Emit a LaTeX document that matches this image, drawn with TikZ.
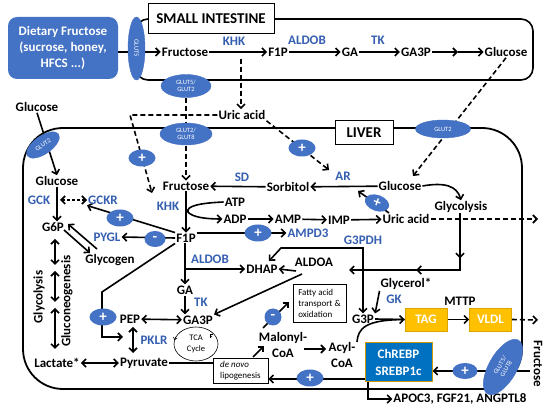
\documentclass[tikz,border=0pt]{standalone}
\usepackage{fontspec}
\setmainfont{Carlito}
\usetikzlibrary{arrows.meta,shapes.geometric,calc,decorations.markings}
\definecolor{eblue}{RGB}{68,114,196}
\definecolor{tblue}{RGB}{52,94,176}
\definecolor{cblue}{RGB}{0,112,192}
\definecolor{gold}{RGB}{255,192,0}
\pgfdeclarelayer{back}\pgfdeclarelayer{mid}\pgfsetlayers{back,mid,main}
\begin{document}
\begin{tikzpicture}[x=1pt,y=-1pt,
  every node/.style={inner sep=1pt, font=\fontsize{13}{15}\selectfont\bfseries},
  enz/.style={text=tblue},
  blob/.style={ellipse, fill=eblue, draw=eblue, inner sep=0pt, text=white, align=center, font=\fontsize{6.5}{7.5}\selectfont},
  pm/.style={ellipse, fill=eblue, inner sep=0pt, minimum width=27, minimum height=17, text=white, font=\fontsize{15}{15}\selectfont\bfseries},
  tip/.tip={Straight Barb[length=4pt,width=8pt]},
  ln/.style={line width=1.6pt},
  arr/.style={ln, -tip},
  dbl/.style={ln, tip-tip},
  darr/.style={arr, dash pattern=on 5pt off 3pt},
  thinbox/.style={draw, line width=0.6pt, inner sep=2pt, font=\fontsize{9}{11}\selectfont},
  gbox/.style={fill=gold, draw=gold!85!black, line width=0.6pt, minimum width=42, minimum height=23, text=white},
]
\begin{pgfonlayer}{back}
\path[use as bounding box, fill=white] (0,0) rectangle (550,409);
\draw[line width=1.6pt, rounded corners=12] (136,19) rectangle (533,80);
\draw[line width=1.8pt, rounded corners=40] (23,128) rectangle (522,389);
\end{pgfonlayer}

% ---------- small intestine ----------
\node[fill=eblue, rounded corners=9, minimum width=110, minimum height=62, text=white, align=center, font=\fontsize{13}{16}\selectfont\bfseries] (diet) at (63,48) {Dietary Fructose\\(sucrose, honey,\\HFCS ...)};
\node[blob, minimum width=63, minimum height=17, rotate=-90] (glut5) at (136.5,48.5) {GLUT5};
\node[draw, fill=white, line width=1pt, minimum width=126, minimum height=30, font=\fontsize{15}{17}\selectfont\bfseries] (silab) at (211,19) {SMALL INTESTINE};
\node (sifru) at (185,52) {Fructose};
\node (sif1p) at (278,52) {F1P};
\node (siga) at (350,52) {GA};
\node (siga3p) at (416,52) {GA3P};
\node (siglc) at (506,52) {Glucose};
\node[enz] (sikhk) at (234,41) {KHK};
\node[enz] (sialdob) at (307,40) {ALDOB};
\node[enz] (sitk) at (378,40) {TK};
\node[blob, minimum width=50, minimum height=23] (glut52) at (186,86) {GLUT5/\\GLUT2};
\node (siuric) at (242,115) {Uric acid};

% ---------- liver ----------
\node[draw, fill=white, line width=1pt, minimum width=58, minimum height=24, font=\fontsize{15}{17}\selectfont\bfseries] (livlab) at (364,133) {LIVER};
\node[blob, minimum width=55, minimum height=18] (glut2t) at (443,129) {GLUT2};
\node[blob, minimum width=52, minimum height=22] (glut28) at (186,134) {GLUT2/\\GLUT8};
\node[blob, minimum width=38, minimum height=18, rotate=35] (glut2l) at (43,145) {GLUT2};
\node (glco) at (37,107) {Glucose};
\node (lglc) at (57,181) {Glucose};
\node[enz] (gck) at (39,200) {GCK};
\node[enz] (gckr) at (103,200) {GCKR};
\node (g6p) at (53,227) {G6P};
\node[enz] (pygl) at (107,237) {PYGL};
\node (glycogen) at (110,260) {Glycogen};
\node (lf1p) at (186,238) {F1P};
\node (lfru) at (186,186) {Fructose};
\node[enz] (lkhk) at (168,206) {KHK};
\node[enz] (sd) at (242,177) {SD};
\node (sorb) at (288,187) {Sorbitol};
\node[enz] (ar) at (343,176) {AR};
\node (rglc) at (400,186) {Glucose};
\node (glyco) at (461,207) {Glycolysis};
\node (ruric) at (406,219) {Uric acid};
\node (atp) at (235,202) {ATP};
\node (adp) at (235,219) {ADP};
\node (amp) at (288,219) {AMP};
\node (imp) at (339,220) {IMP};
\node[enz] (ampd3) at (308,233) {AMPD3};
\node[enz] (g3pdh) at (363,240) {G3PDH};
\node (aldoa) at (314,262) {ALDOA};
\node (dhap) at (262,269) {DHAP};
\node[enz] (laldob) at (210,259) {ALDOB};
\node (lga) at (185,290) {GA};
\node[enz] (ltk) at (201,302) {TK};
\node (lga3p) at (198,320) {GA3P};
\node (pep) at (130,319) {PEP};
\node[enz] (pklr) at (154,340) {PKLR};
\node (pyr) at (144,363) {Pyruvate};
\node (lact) at (57,363) {Lactate*};
\node[rotate=90] (glycol) at (39,297) {Glycolysis};
\node[rotate=90] (gluco) at (67,301) {Gluconeogenesis};
\node[ellipse, draw, line width=0.6pt, minimum width=44, minimum height=34, inner sep=0pt, align=center, font=\fontsize{8.5}{10.5}\selectfont] (tca) at (196,344) {TCA\\Cycle};
\node[thinbox, minimum width=53, minimum height=38, align=left] (fatty) at (319.5,303) {Fatty acid\\transport \&\\oxidation};
\node[thinbox, minimum width=55, minimum height=25, align=left] (denovo) at (240.5,370.5) {\textit{de novo}\\lipogenesis};
\node[align=center, font=\fontsize{13}{15.5}\selectfont\bfseries] (malonyl) at (283,345) {Malonyl-\\CoA};
\node[align=center, font=\fontsize{13}{15.5}\selectfont\bfseries] (acyl) at (342,355) {Acyl-\\CoA};
\node (g3p) at (363,319) {G3P};
\node (glycerol) at (406,284) {Glycerol*};
\node[enz] (gk) at (394,299) {GK};
\node[gbox] (tag) at (426,319.5) {TAG};
\node[gbox] (vldl) at (490.5,319.5) {VLDL};
\node (mttp) at (460,301) {MTTP};
\node[fill=cblue, draw=gold!80!black, line width=1pt, minimum width=67, minimum height=39, text=white, align=center, font=\fontsize{13}{17}\selectfont\bfseries] (chrebp) at (398.5,362.5) {ChREBP\\SREBP1c};
\node (apoc) at (460,399) {APOC3, FGF21, ANGPTL8};
\node[rotate=-90] (frr) at (538,364) {Fructose};
\node[blob, minimum width=62, minimum height=28, rotate=60, font=\fontsize{6.5}{7}\selectfont] (glut58) at (503,367) {GLUT5/\\GLUT8};

% ---------- plus / minus ----------
\node[pm] (p1) at (142,158) {+};
\node[pm] (p2) at (302,148) {+};
\node[pm] (p3) at (120,218) {+};
\node[pm, minimum width=21, minimum height=16] (m1) at (155,239) {-};
\node[pm] (p4) at (258,233) {+};
\node[pm, minimum width=25, minimum height=16, rotate=-20] (p5) at (377,203) {+};
\node[pm] (p6) at (103,317) {+};
\node[pm, minimum width=17, minimum height=17] (m2) at (273,317) {-};
\node[pm] (p7) at (310,378) {+};
\node[pm, minimum width=25, minimum height=16] (p8) at (465,371) {+};

% ---------- coordinates ----------
\coordinate (simid) at (458,52);
\coordinate (khkd) at (241,59);
\coordinate (uc1) at (130,115);
\coordinate (khkt) at (152,193);
\coordinate (art) at (329,170);
\coordinate (gl2e) at (413,176);
\coordinate (gckl) at (60,200);
\coordinate (gy1) at (97,249);
\coordinate (gy2) at (68,224);
\coordinate (gy3) at (64,230);
\coordinate (gy4) at (90,253);
\coordinate (pp1) at (102,292);
\coordinate (pp2) at (102,337);
\coordinate (pp3) at (123,337);
\coordinate (pepd) at (133,327);
\coordinate (pyru) at (133,353);
\coordinate (arpt) at (358,191);
\coordinate (urs) at (389,213);
\coordinate (uend) at (538,219);
\coordinate (gtop) at (460,213);
\coordinate (gc) at (460,270);
\coordinate (gend) at (349,270);
\coordinate (aldl) at (296,271);
\coordinate (aldd) at (302,274);
\coordinate (g3a) at (363,248);
\coordinate (g3b) at (281,248);
\coordinate (g3c) at (269,261);
\coordinate (br) at (185,269);
\coordinate (ml1) at (263,328);
\coordinate (fa1) at (289,302);
\coordinate (dn1) at (253,357);
\coordinate (ml2) at (264,346);
\coordinate (ma1) at (304,349);
\coordinate (ac1) at (326,349);
\coordinate (ac2) at (357,342);
\coordinate (vend) at (538,320);
\coordinate (cw) at (365,379);
\coordinate (fr1) at (530,371);
\coordinate (ap1) at (368,382);
\coordinate (ap2) at (368,399);
\coordinate (lc1) at (55,239);
\coordinate (lc2) at (55,265);
\coordinate (lc3) at (55,271);
\coordinate (lc4) at (55,302);
\coordinate (lc5) at (55,308);
\coordinate (lc6) at (55,349);

\begin{pgfonlayer}{mid}
\draw[arr] (diet.east |- sifru.west) -- (sifru.west);
\draw[arr] (sifru) -- (sif1p);
\draw[arr] (sif1p) -- (siga);
\draw[arr] (siga) -- (siga3p);
\draw[arr] (siga3p) -- (simid);
\draw[arr] (simid) -- (siglc);
\draw[darr] (khkd) -- (khkd |- siuric.north);
\draw[darr] (siuric.west) -- (uc1) -- (khkt);
\draw[darr] (glut52.south) -- (lfru.north);
\draw[darr] (siuric.south east) -- (art);
\draw[darr] (siglc.south) -- (gl2e);
\draw[arr] (glco.south) -- (lglc.north);
\draw[arr] (lglc.south) -- (lglc.south |- g6p.north);
\draw[ln, dash pattern=on 3pt off 2pt, tip-tip] (gckl) -- (gckr.west);
\draw[arr] (lf1p.north west) -- (gckr.south west);
\draw[arr] (lf1p.west) -- (pygl.east);
\draw[arr] (gy1) -- (gy2);
\draw[arr] (gy3) -- (gy4);
% glycolysis / gluconeogenesis column
\draw[dbl] (lc1) -- (lc2);
\draw[dbl] (lc3) -- (lc4);
\draw[dbl] (lc5) -- (lc6);
\draw[dbl] (lact) -- (pyr);
\draw[dbl] (pepd) -- (pyru);
\draw[dbl] (pep) -- (lga3p);
\draw[arr] (lf1p.south west) -- (pp1) -- (pp2) -- (pp3);
\draw[arr] (lfru) -- (lf1p);
\draw[arr] (atp.west) .. controls (200,203) and (186,206) .. (188,212) .. controls (192,217) and (205,219) .. (adp.west);
\draw[arr] (adp) -- (amp);
\draw[arr] (amp) -- (imp);
\draw[arr] (imp) -- (ruric);
\draw[arr] (sorb) -- (lfru);
\draw[arr] (rglc) -- (sorb);
\draw[arr] (urs) -- (arpt);
\draw[arr] (lf1p.east |- p4) -- (ampd3.west);
\draw[arr] (rglc.east) .. controls (445,182) and (457,186) .. (glyco.north);
\draw[darr] (ruric) -- (uend);
\draw[ln, -tip, postaction={decorate}, decoration={markings, mark=at position 0.27 with {\arrow{tip}}, mark=at position 0.6 with {\arrow{tip}}}] (gtop) -- (gc) -- (gend);
\draw[arr] (aldl) -- (dhap.east);
\draw[arr] (aldd) -- (lga3p.north east);
\draw[dbl] (g3p.north) -- (g3a) -- (g3b) -- (g3c);
\draw[arr] (lf1p.south -| lga) -- (lga.north);
\draw[arr] (br) -- (dhap.west);
\draw[arr] (lga.south) -- (lga.south |- lga3p.north);
\draw[arr] (ml1) -- (fa1);
\draw[arr] (dn1) -- (ml2);
\draw[arr] (ma1) -- (ac1);
\draw[arr] (ac2) .. controls (358,328) and (366,320) .. (tag.west);
\draw[ln] (g3p.east) -- (tag.west);
\draw[arr] (glycerol.south west) -- (g3p.north east);
\draw[arr] (tag) -- (vldl);
\draw[darr] (vldl.east) -- (vend);
\draw[ln] (pyr.east) -- (denovo.west |- pyr.east);
\draw[arr] (chrebp.west |- cw) -- (denovo.east |- cw);
\draw[arr] (fr1) -- (chrebp.east |- fr1);
\draw[arr] (ap1) -- (ap2) -- (apoc.west);
\draw[line width=0.6pt, -{Straight Barb[length=2pt,width=4pt]}] (212,337) -- (209.5,334.5);
\draw[line width=0.6pt, -{Straight Barb[length=2pt,width=4pt]}] (175.5,337) -- (174.5,340);
\end{pgfonlayer}
\end{tikzpicture}
\end{document}
